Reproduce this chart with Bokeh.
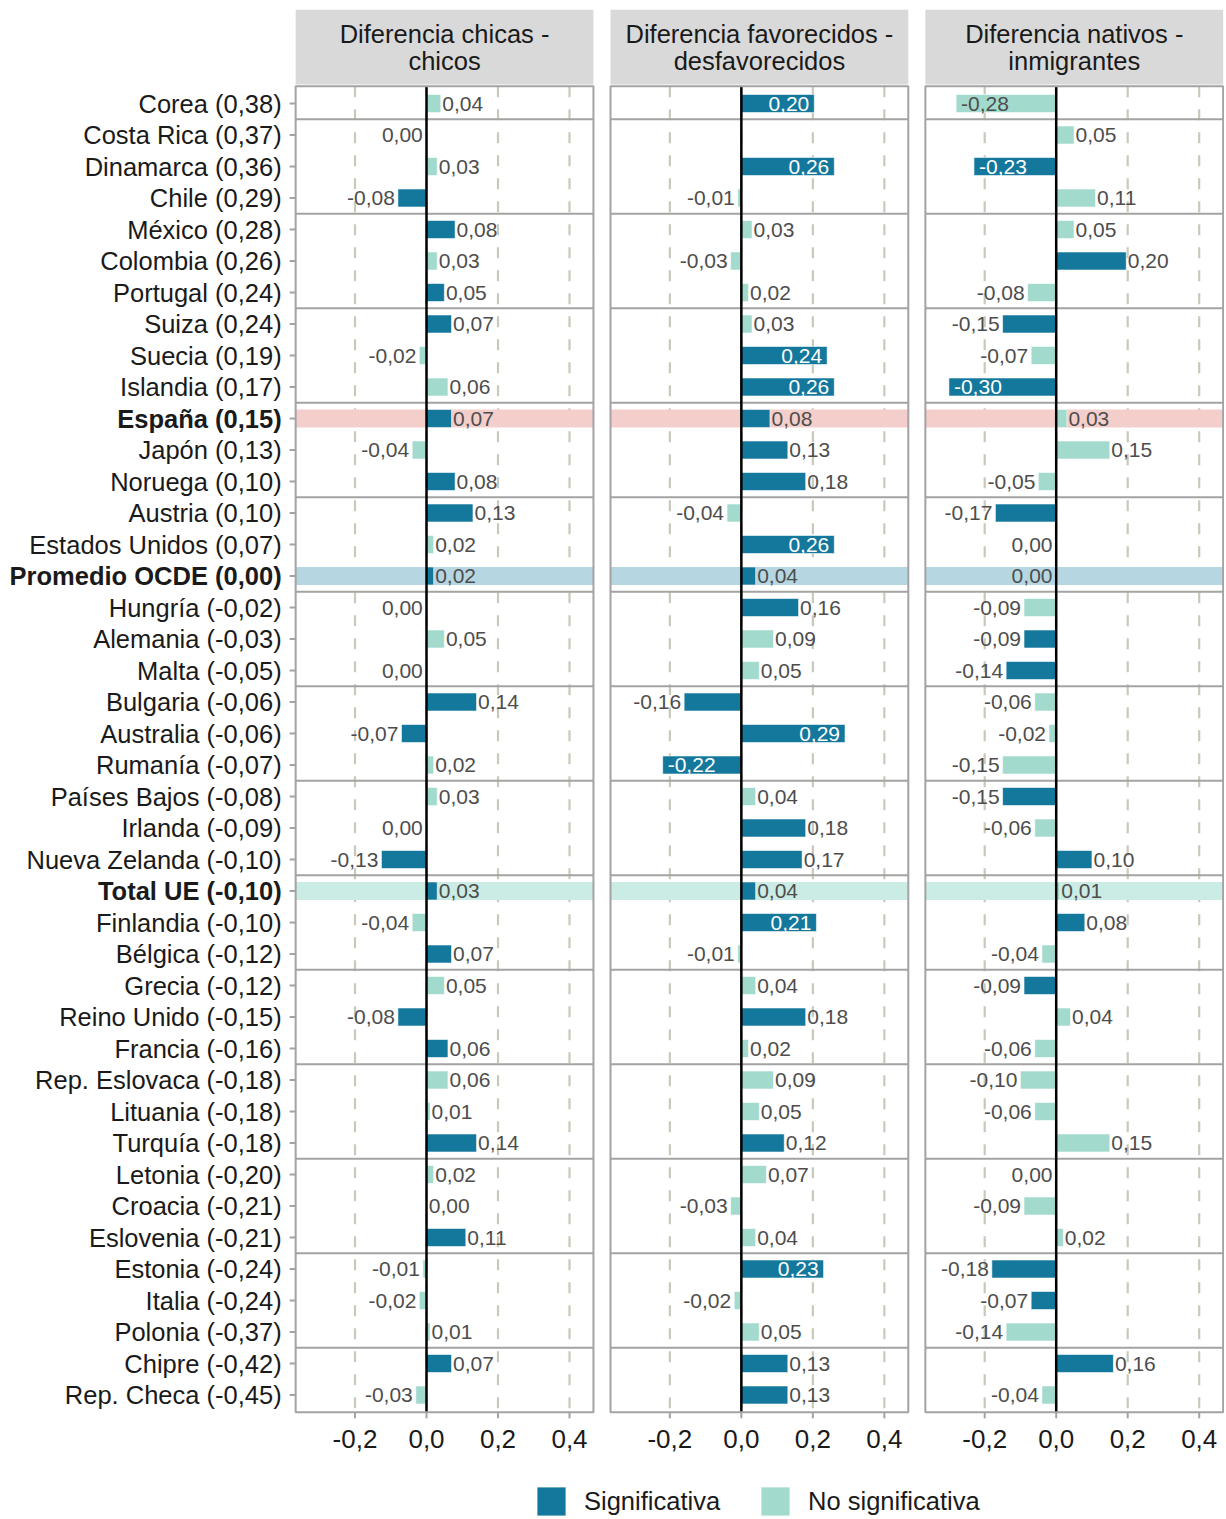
import math
from bokeh.plotting import figure
from bokeh.models import ColumnDataSource, Range1d, Legend, LegendItem
from bokeh.core.properties import value
from bokeh.embed import file_html
from bokeh.resources import INLINE

# ---------------- data ----------------
countries = [
    "Corea (0,38)", "Costa Rica (0,37)", "Dinamarca (0,36)", "Chile (0,29)",
    "México (0,28)", "Colombia (0,26)", "Portugal (0,24)", "Suiza (0,24)",
    "Suecia (0,19)", "Islandia (0,17)", "España (0,15)", "Japón (0,13)",
    "Noruega (0,10)", "Austria (0,10)", "Estados Unidos (0,07)", "Promedio OCDE (0,00)",
    "Hungría (-0,02)", "Alemania (-0,03)", "Malta (-0,05)", "Bulgaria (-0,06)",
    "Australia (-0,06)", "Rumanía (-0,07)", "Países Bajos (-0,08)", "Irlanda (-0,09)",
    "Nueva Zelanda (-0,10)", "Total UE (-0,10)", "Finlandia (-0,10)", "Bélgica (-0,12)",
    "Grecia (-0,12)", "Reino Unido (-0,15)", "Francia (-0,16)", "Rep. Eslovaca (-0,18)",
    "Lituania (-0,18)", "Turquía (-0,18)", "Letonia (-0,20)", "Croacia (-0,21)",
    "Eslovenia (-0,21)", "Estonia (-0,24)", "Italia (-0,24)", "Polonia (-0,37)",
    "Chipre (-0,42)", "Rep. Checa (-0,45)",
]
bold_countries = ["España (0,15)", "Promedio OCDE (0,00)", "Total UE (-0,10)"]
highlight_countries = ["España (0,15)", "Promedio OCDE (0,00)", "Total UE (-0,10)"]
highlight_colors = ["#F4CECB", "#B6D6E2", "#CBECE4"]

panel_titles = ["Diferencia chicas -\nchicos",
                "Diferencia favorecidos -\ndesfavorecidos",
                "Diferencia nativos -\ninmigrantes"]

gap_gender = [0.04, -0.002, 0.03, -0.08, 0.08, 0.03, 0.05, 0.07, -0.02, 0.06,
              0.07, -0.04, 0.08, 0.13, 0.02, 0.02, -0.002, 0.05, -0.002, 0.14,
              -0.07, 0.02, 0.03, -0.002, -0.126, 0.03, -0.04, 0.07, 0.05, -0.08,
              0.06, 0.06, 0.01, 0.14, 0.02, 0.002, 0.11, -0.01, -0.02, 0.01,
              0.07, -0.03]
sig_gender = [0, 0, 0, 1, 1, 0, 1, 1, 0, 0,
              1, 0, 1, 1, 0, 1, 0, 0, 0, 1,
              1, 0, 0, 0, 1, 1, 0, 1, 0, 1,
              1, 0, 0, 1, 0, 0, 1, 0, 0, 0,
              1, 0]

gap_ses = [0.204, float("nan"), 0.26, -0.01, 0.03, -0.03, 0.02, 0.03, 0.24, 0.26,
           0.08, 0.13, 0.18, -0.04, 0.26, 0.04, 0.16, 0.09, 0.05, -0.16,
           0.29, -0.22, 0.04, 0.18, 0.17, 0.04, 0.21, -0.01, 0.04, 0.18,
           0.02, 0.09, 0.05, 0.12, 0.07, -0.03, 0.04, 0.23, -0.02, 0.05,
           0.13, 0.13]
sig_ses = [1, 0, 1, 0, 0, 0, 0, 0, 1, 1,
           1, 1, 1, 0, 1, 1, 1, 0, 0, 1,
           1, 1, 0, 1, 1, 1, 1, 0, 0, 1,
           0, 0, 0, 1, 0, 0, 0, 1, 0, 0,
           1, 1]

gap_migr = [-0.28, 0.05, -0.23, 0.11, 0.05, 0.196, -0.08, -0.15, -0.07, -0.30,
            0.03, 0.15, -0.05, -0.17, -0.002, -0.002, -0.09, -0.09, -0.14, -0.06,
            -0.02, -0.15, -0.15, -0.06, 0.10, 0.01, 0.08, -0.04, -0.09, 0.04,
            -0.06, -0.10, -0.06, 0.15, -0.002, -0.09, 0.02, -0.18, -0.07, -0.14,
            0.16, -0.04]
sig_migr = [0, 0, 1, 0, 0, 1, 0, 1, 0, 1,
            0, 0, 0, 1, 0, 0, 0, 1, 1, 0,
            0, 0, 1, 0, 1, 0, 1, 0, 1, 0,
            0, 0, 0, 0, 0, 0, 0, 1, 1, 0,
            1, 0]

x_ticks = [-0.2, 0.0, 0.2, 0.4]
x_tick_labels = ["-0,2", "0,0", "0,2", "0,4"]
legend_labels = ["Significativa", "No significativa"]

# ---------------- layout / style ----------------
FONT = "Liberation Sans"
C_SIG = "#13789C"
C_NS = "#A3DACE"
C_LAB = "#4D4D4D"
C_TXT = "#1A1A1A"
C_BORDER = "#A3A3A3"
C_GRID = "#C9C9BA"
OFF = 0.8807                 # horizontal distance between panel zero lines
XLO, XHI = -0.366, 0.467     # panel x limits
YTOP, YBOT = 0.45, 42.55     # panel y limits (rows)
BAR_H = 0.571
W, H = 1224, 1517
PX_PER_X = 357.5
PX_PER_ROW = 31.5
X0 = -426.0 / PX_PER_X
X1 = X0 + W / PX_PER_X
Y0 = 1 - 103.0 / PX_PER_ROW
Y1 = Y0 + H / PX_PER_ROW
PXX = 1 / PX_PER_X
PXY = 1 / PX_PER_ROW

p = figure(width=W, height=H, x_range=Range1d(X0, X1), y_range=Range1d(Y1, Y0),
           output_backend="svg", toolbar_location=None, min_border=0,
           x_axis_location=None, y_axis_location=None)
p.grid.visible = False
p.outline_line_color = None
p.background_fill_color = "white"
p.border_fill_color = "white"

rows = list(range(1, len(countries) + 1))
panels = [(gap_gender, sig_gender), (gap_ses, sig_ses), (gap_migr, sig_migr)]
offs = [k * OFF for k in range(3)]
mid = (XLO + XHI) / 2

# strips
p.quad(left=[o + XLO for o in offs], right=[o + XHI for o in offs],
       top=[-1.98] * 3, bottom=[0.40] * 3, fill_color="#D9D9D9", line_color=None)
for k, t in enumerate(panel_titles):
    lines = t.split("\n")
    ys = [-1.222, -0.365]
    p.text(x=[offs[k] + mid] * len(lines), y=ys[:len(lines)], text=lines,
           text_font=value(FONT), text_font_size="25.5px", text_color=C_TXT,
           text_align="center", text_baseline="middle")

# dashed grid
gx = []
for o in offs:
    for t in x_ticks:
        gx.append(o + t)
p.segment(x0=gx, y0=[YTOP] * len(gx), x1=gx, y1=[YBOT] * len(gx),
          line_color=C_GRID, line_width=2.2, line_dash="11 12")

# highlights
hl_y, hl_l, hl_r, hl_c = [], [], [], []
for name, col in zip(highlight_countries, highlight_colors):
    r = countries.index(name) + 1
    for o in offs:
        hl_y.append(r); hl_l.append(o + XLO); hl_r.append(o + XHI); hl_c.append(col)
p.hbar(y=hl_y, left=hl_l, right=hl_r, height=BAR_H, fill_color=hl_c, line_color=None)

# horizontal separators every three rows
sep = [1.5 + 3 * i for i in range(14)]
sx0, sx1, sy = [], [], []
for o in offs:
    for s in sep:
        sx0.append(o + XLO); sx1.append(o + XHI); sy.append(s)
p.segment(x0=sx0, y0=sy, x1=sx1, y1=sy, line_color=C_BORDER, line_width=2)

# bars
bars = {1: dict(y=[], left=[], right=[]), 0: dict(y=[], left=[], right=[])}
lab = dict(x=[], y=[], text=[], align=[], xoff=[], color=[])


def fmt(v):
    s = f"{abs(v):.2f}".replace(".", ",")
    if v < 0 and round(abs(v), 2) > 0:
        s = "-" + s
    return s


for o, (vals, sigs) in zip(offs, panels):
    for r, v, s in zip(rows, vals, sigs):
        if v is None or math.isnan(v):
            continue
        bars[s]["y"].append(r)
        bars[s]["left"].append(o + min(0.0, v))
        bars[s]["right"].append(o + max(0.0, v))
        lab["x"].append(o + v)
        lab["y"].append(r)
        lab["text"].append(fmt(v))
        if abs(v) >= 0.2:
            lab["align"].append("right" if v > 0 else "left")
            lab["xoff"].append(-5 if v > 0 else 5)
            lab["color"].append("white" if s else C_LAB)
        else:
            lab["align"].append("left" if v >= 0 else "right")
            lab["xoff"].append(1.5 if v >= 0 else -3)
            lab["color"].append(C_LAB)

r_sig = p.hbar(y="y", left="left", right="right", height=BAR_H,
               source=ColumnDataSource(bars[1]), fill_color=C_SIG,
               line_color="white", line_width=0.8, line_alpha=0.7)
r_ns = p.hbar(y="y", left="left", right="right", height=BAR_H,
              source=ColumnDataSource(bars[0]), fill_color=C_NS,
              line_color="white", line_width=0.8, line_alpha=0.7)

# zero lines
p.segment(x0=offs, y0=[YTOP] * 3, x1=offs, y1=[YBOT] * 3, line_color="black", line_width=2.5)

# value labels
p.text(x="x", y="y", text="text", source=ColumnDataSource(lab),
       text_align="align", x_offset="xoff", text_color="color",
       text_baseline="middle", text_font=value(FONT), text_font_size="21px")

# panel borders
p.quad(left=[o + XLO for o in offs], right=[o + XHI for o in offs],
       top=[YTOP] * 3, bottom=[YBOT] * 3, fill_color=None,
       line_color=C_BORDER, line_width=2)

# y axis: ticks + labels
p.segment(x0=[XLO - 6 * PXX] * len(rows), y0=rows, x1=[XLO] * len(rows), y1=rows,
          line_color=C_BORDER, line_width=2)
ysrc = ColumnDataSource(dict(
    x=[XLO - 14 * PXX] * len(rows), y=rows, text=countries,
    fstyle=["bold" if c in bold_countries else "normal" for c in countries]))
p.text(x="x", y="y", text="text", source=ysrc, text_font_style="fstyle",
       text_align="right", text_baseline="middle", text_font=value(FONT),
       text_font_size="25.5px", text_color=C_TXT)

# x axes: ticks + labels
tx, tl = [], []
for o in offs:
    for t, l in zip(x_ticks, x_tick_labels):
        tx.append(o + t); tl.append(l)
p.segment(x0=tx, y0=[YBOT] * len(tx), x1=tx, y1=[YBOT + 6 * PXY] * len(tx),
          line_color=C_BORDER, line_width=2)
p.text(x=tx, y=[43.41] * len(tx), text=tl, text_align="center",
       text_baseline="middle", text_font=value(FONT), text_font_size="26px",
       text_color=C_TXT)

# legend
legend = Legend(items=[LegendItem(label=legend_labels[0], renderers=[r_sig]),
                       LegendItem(label=legend_labels[1], renderers=[r_ns])],
                orientation="horizontal", location=(533, -2),
                glyph_width=36, glyph_height=36, label_standoff=15, spacing=37,
                padding=0, margin=0, border_line_color=None,
                background_fill_alpha=0, label_text_font=FONT,
                label_text_font_size="25.5px", label_text_color=C_TXT)
p.add_layout(legend)

open("out.html", "w").write(file_html(p, INLINE))
